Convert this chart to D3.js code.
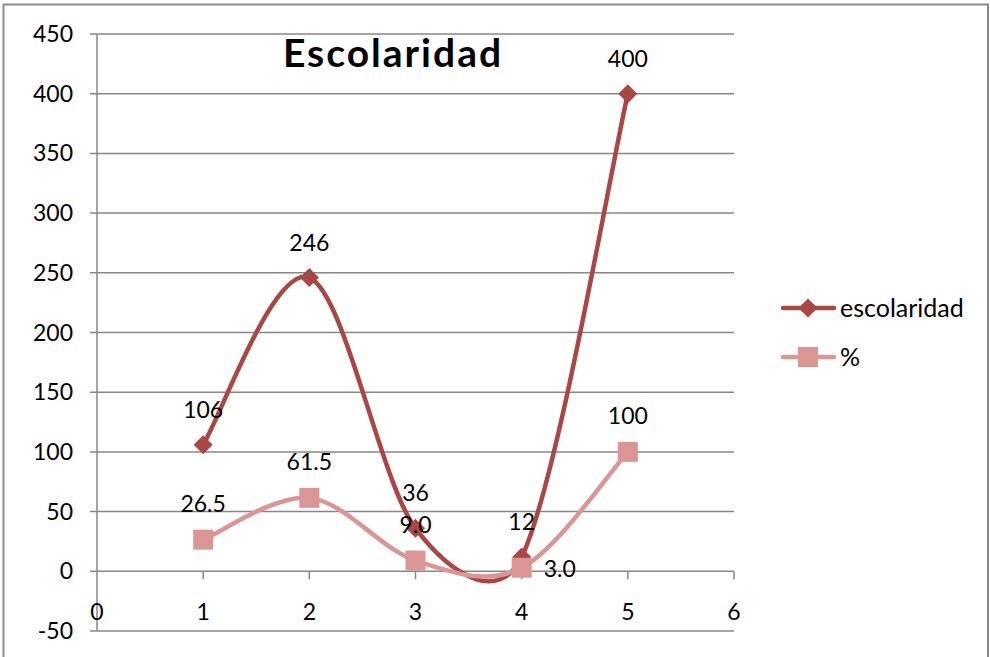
<!DOCTYPE html>
<html><head><meta charset="utf-8">
<script src="https://cdn.jsdelivr.net/npm/d3@7"></script>
<style>html,body{margin:0;padding:0;background:#fff;}svg{display:block;font-family:Lato,"Open Sans",sans-serif;}</style>
</head><body><svg id="c" width="990" height="657"></svg>
<script>
const categories = [1, 2, 3, 4, 5];
const escolaridad = [106, 246, 36, 12, 400];
const porcentaje = [26.5, 61.5, 9.0, 3.0, 100];
const escLabels = ["106", "246", "36", "12", "400"];
const pctLabels = ["26.5", "61.5", "9.0", "3.0", "100"];
const yTicks = [-50, 0, 50, 100, 150, 200, 250, 300, 350, 400, 450];
const xTicks = [0, 1, 2, 3, 4, 5, 6];
const seriesNames = ["escolaridad", "%"];

const C_ESC = "#AA4643", C_PCT = "#D99694", GRID = "#878787";
const svg = d3.select("#c");
svg.append("rect").attr("x",3.5).attr("y",4.5).attr("width",984.5).attr("height",670)
  .attr("fill","#fff").attr("stroke","#8c8c8c").attr("stroke-width",2);

const x = d3.scaleLinear().domain([0,6]).range([97,734]);
const y = d3.scaleLinear().domain([-50,450]).range([631,34]);

// Excel-like smoothing curve
function ExcelCurve(context){ this._context = context; }
ExcelCurve.prototype = {
  areaStart(){ this._line = 0; }, areaEnd(){ this._line = NaN; },
  lineStart(){ this._pts = []; }, 
  lineEnd(){
    const p = this._pts, ctx = this._context, n = p.length;
    if (!n) return;
    ctx.moveTo(p[0][0], p[0][1]);
    const d = (a,b)=>Math.hypot(b[0]-a[0], b[1]-a[1]);
    for (let i=0;i<n-1;i++){
      const P0 = p[Math.max(i-1,0)], P1 = p[i], P2 = p[i+1], P3 = p[Math.min(i+2,n-1)];
      const d12 = d(P1,P2), d02 = d(P0,P2), d13 = d(P1,P3);
      let f0 = 1/6, f1 = 1/6;
      if (d02/6 >= d12/2 && d02>0) f0 = d12/d02/2;
      if (d13/6 >= d12/2 && d13>0) f1 = d12/d13/2;
      const c1 = [P1[0]+(P2[0]-P0[0])*f0, P1[1]+(P2[1]-P0[1])*f0];
      const c2 = [P2[0]-(P3[0]-P1[0])*f1, P2[1]-(P3[1]-P1[1])*f1];
      ctx.bezierCurveTo(c1[0],c1[1],c2[0],c2[1],P2[0],P2[1]);
    }
  },
  point(px,py){ this._pts.push([+px,+py]); }
};
const excelCurve = ctx => new ExcelCurve(ctx);

// gridlines
svg.append("g").selectAll("line").data(yTicks).join("line")
  .attr("x1",90).attr("x2",734).attr("y1",d=>y(d)).attr("y2",d=>y(d))
  .attr("stroke",GRID).attr("stroke-width",1.5);
// y axis line
svg.append("line").attr("x1",x(0)).attr("x2",x(0)).attr("y1",y(450)).attr("y2",y(-50))
  .attr("stroke",GRID).attr("stroke-width",1.5);
// x tick marks at y=0
svg.append("g").selectAll("line").data(xTicks.slice(1)).join("line")
  .attr("x1",d=>x(d)).attr("x2",d=>x(d)).attr("y1",y(0)).attr("y2",y(0)+8)
  .attr("stroke",GRID).attr("stroke-width",1.5);
// y labels
svg.append("g").selectAll("text").data(yTicks).join("text")
  .attr("x",73).attr("y",d=>y(d)).attr("dy","0.35em").attr("text-anchor","end")
  .attr("font-size",23).attr("fill","#000").text(d=>d);
// x labels
svg.append("g").selectAll("text").data(xTicks).join("text")
  .attr("x",d=>x(d)).attr("y",612).attr("dy","0.35em").attr("text-anchor","middle")
  .attr("font-size",23).attr("fill","#000").text(d=>d);

// title
svg.append("text").attr("x",393).attr("y",67).attr("text-anchor","middle")
  .attr("font-size",39).attr("font-weight","bold").attr("letter-spacing",2).attr("fill","#000").text("Escolaridad");

const line = d3.line().curve(excelCurve);
const escPts = categories.map((c,i)=>[x(c), y(escolaridad[i])]);
const pctPts = categories.map((c,i)=>[x(c), y(porcentaje[i])]);

svg.append("path").attr("d",line(escPts)).attr("fill","none").attr("stroke",C_ESC)
  .attr("stroke-width",4.5).attr("stroke-linecap","round").attr("stroke-linejoin","round");
const diamond = (cx,cy,r)=>`M${cx},${cy-r}L${cx+r},${cy}L${cx},${cy+r}L${cx-r},${cy}Z`;
svg.append("g").selectAll("path").data(escPts).join("path")
  .attr("d",d=>diamond(d[0],d[1],9.5)).attr("fill",C_ESC);

svg.append("path").attr("d",line(pctPts)).attr("fill","none").attr("stroke",C_PCT)
  .attr("stroke-width",4.5).attr("stroke-linecap","round").attr("stroke-linejoin","round");
svg.append("g").selectAll("rect").data(pctPts).join("rect")
  .attr("x",d=>d[0]-10).attr("y",d=>d[1]-10).attr("width",20).attr("height",20).attr("fill",C_PCT);

// data labels
svg.append("g").selectAll("text").data(escPts).join("text")
  .attr("x",d=>d[0]).attr("y",d=>d[1]-35).attr("dy","0.35em").attr("text-anchor","middle")
  .attr("font-size",23).attr("fill","#000").text((d,i)=>escLabels[i]);
svg.append("g").selectAll("text").data(pctPts).join("text")
  .attr("x",(d,i)=> i===3 ? d[0]+22 : d[0])
  .attr("y",(d,i)=> i===3 ? d[1]+1 : d[1]-36).attr("dy","0.35em")
  .attr("text-anchor",(d,i)=> i===3 ? "start" : "middle")
  .attr("font-size",23).attr("fill","#000").text((d,i)=>pctLabels[i]);

// legend
const lg = svg.append("g");
[[308, C_ESC, "d"], [357, C_PCT, "s"]].forEach((r,i)=>{
  lg.append("line").attr("x1",783).attr("x2",834).attr("y1",r[0]).attr("y2",r[0])
    .attr("stroke",r[1]).attr("stroke-width",4.5).attr("stroke-linecap","round");
  if (r[2]==="d") lg.append("path").attr("d",diamond(808,r[0],9.5)).attr("fill",r[1]);
  else lg.append("rect").attr("x",798).attr("y",r[0]-10).attr("width",20).attr("height",20).attr("fill",r[1]);
  lg.append("text").attr("x",840).attr("y",r[0]).attr("dy","0.35em").attr("font-size",25)
    .attr("fill","#000").text(seriesNames[i]);
});
</script></body></html>
